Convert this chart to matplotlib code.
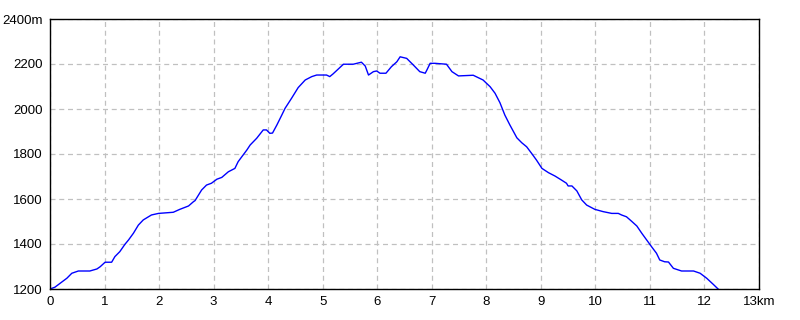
import matplotlib
matplotlib.use("Agg")
import matplotlib.pyplot as plt

# distance (km) and elevation (m)
dist_km = [0.0, 0.09, 0.31, 0.40, 0.52, 0.73, 0.86, 0.92, 1.01, 1.13, 1.19, 1.28,
           1.375, 1.44, 1.53, 1.62, 1.71, 1.86, 1.99, 2.26, 2.38, 2.54, 2.63, 2.66,
           2.78, 2.87, 2.96, 3.06, 3.15, 3.27, 3.39, 3.45, 3.61, 3.67, 3.79, 3.91,
           3.97, 4.03, 4.08, 4.16, 4.25, 4.31, 4.43, 4.55, 4.68, 4.80, 4.89, 5.07,
           5.13, 5.19, 5.38, 5.56, 5.71, 5.78, 5.84, 5.93, 5.99, 6.05, 6.16, 6.26,
           6.36, 6.42, 6.54, 6.66, 6.78, 6.88, 6.91, 6.97, 7.06, 7.27, 7.37, 7.49,
           7.76, 7.94, 8.07, 8.16, 8.25, 8.34, 8.43, 8.56, 8.65, 8.74, 8.83, 8.92,
           9.02, 9.14, 9.26, 9.38, 9.47, 9.50, 9.57, 9.66, 9.75, 9.84, 9.99, 10.14,
           10.30, 10.42, 10.48, 10.57, 10.66, 10.76, 10.85, 10.94, 11.03, 11.12,
           11.18, 11.27, 11.34, 11.43, 11.58, 11.80, 11.92, 12.04, 12.16, 12.25]
elev_m = [1200, 1208, 1248, 1270, 1280, 1280, 1289, 1299, 1319, 1319, 1344, 1366,
          1399, 1418, 1448, 1484, 1507, 1529, 1536, 1541, 1554, 1569, 1588, 1593,
          1640, 1662, 1670, 1688, 1696, 1721, 1736, 1766, 1818, 1840, 1870, 1907,
          1907, 1892, 1893, 1929, 1973, 2003, 2048, 2095, 2129, 2144, 2151, 2151,
          2144, 2156, 2199, 2199, 2208, 2191, 2151, 2166, 2169, 2159, 2159, 2188,
          2210, 2232, 2225, 2196, 2166, 2159, 2173, 2203, 2203, 2199, 2166, 2147,
          2150, 2129, 2099, 2070, 2028, 1973, 1930, 1872, 1850, 1832, 1803, 1773,
          1736, 1717, 1702, 1684, 1670, 1658, 1658, 1636, 1596, 1573, 1554, 1544,
          1536, 1536, 1529, 1521, 1502, 1480, 1448, 1418, 1388, 1359,
          1329, 1321, 1320, 1292, 1280, 1280, 1270, 1248, 1221, 1200]

x_ticks = list(range(0, 14))
x_labels = [str(v) for v in range(0, 13)] + ["13km"]
y_ticks = list(range(1200, 2401, 200))
y_labels = [str(v) for v in range(1200, 2400, 200)] + ["2400m"]

plt.rcParams["font.family"] = ["Liberation Sans", "DejaVu Sans"]

fig = plt.figure(figsize=(8, 3.2), dpi=100)
ax = fig.add_axes([50 / 800, 1 - 289 / 320, 709 / 800, 270 / 320])

ax.plot(dist_km, elev_m, color="#0000ff", lw=1.0)

ax.set_xlim(0, 13)
ax.set_ylim(1200, 2400)
ax.set_xticks(x_ticks)
ax.set_xticklabels(x_labels)
ax.set_yticks(y_ticks)
ax.set_yticklabels(y_labels)
ax.tick_params(length=0, labelsize=9.5, pad=5, colors="black")
ax.grid(True, color="#c0c0c0", linestyle=(0, (4, 3)), linewidth=0.9)

for spine in ax.spines.values():
    spine.set_color("black")
    spine.set_linewidth(1.0)

fig.savefig("out.png", dpi=100)
